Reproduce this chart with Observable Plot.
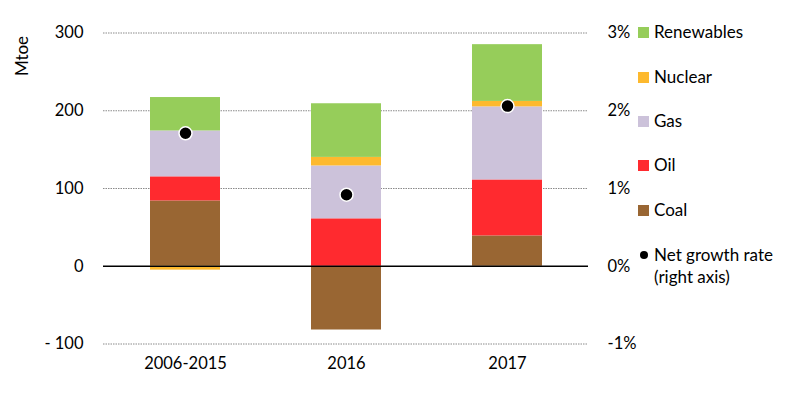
<!DOCTYPE html>
<html>
<head>
<meta charset="utf-8">
<script src="https://cdn.jsdelivr.net/npm/d3@7"></script>
<script src="https://cdn.jsdelivr.net/npm/@observablehq/plot@0.6"></script>
<style>
  html, body { margin: 0; padding: 0; background: #fff; }
  #wrap { position: relative; width: 790px; height: 395px; font-family: Lato, "Open Sans", sans-serif; color: #000; }
  #legend { position: absolute; left: 0; top: 0; }
  .item { position: absolute; left: 638px; height: 20px; display: flex; align-items: center; font-size: 17px; line-height: 20px; white-space: nowrap; }
  .sw { width: 11px; height: 11px; margin-right: 5px; flex: none; }
  .dotsw { width: 8px; height: 8px; border-radius: 50%; background: #000; margin: 0 6px 0 2px; flex: none; }
  #ylabel { position: absolute; left: 22px; top: 56px; transform: translate(-50%, -50%) rotate(-90deg); font-size: 17px; line-height: 20px; white-space: nowrap; }
</style>
</head>
<body>
<div id="wrap"><div id="chart"></div><div id="legend"></div><div id="ylabel"></div></div>
<script>
const categories = ["2006-2015", "2016", "2017"];
const fuels = ["Coal", "Oil", "Gas", "Nuclear", "Renewables"];
const fuelColors = ["#996633", "#FF2A2F", "#CCC2DA", "#FDB92E", "#96CD5A"];
const coal = [84, -82, 39];
const oil = [31, 61, 72];
const gas = [59, 68, 94];
const nuclear = [-5, 11, 7];
const renewables = [43, 69, 73];
const growthRate = [1.71, 0.92, 2.06]; // percent, right axis
const yTicks = [-100, 0, 100, 200, 300];
const gridTicks = [-100, 100, 200, 300];
const legendLabels = ["Renewables", "Nuclear", "Gas", "Oil", "Coal"];
const yLabel = "Mtoe";

const seriesValues = [coal, oil, gas, nuclear, renewables];
const rows = [];
fuels.forEach((f, i) => categories.forEach((c, j) => rows.push({category: c, fuel: f, value: seriesValues[i][j]})));
const dots = categories.map((c, j) => ({category: c, rate: growthRate[j]}));

const chart = Plot.plot({
  width: 790,
  height: 395,
  marginLeft: 103,
  marginRight: 202,
  marginTop: 32.5,
  marginBottom: 51.5,
  style: {fontFamily: "Lato, 'Open Sans', sans-serif", fontSize: "16.5px", color: "#000", background: "transparent"},
  x: {domain: categories, paddingInner: 0.567, paddingOuter: 0.283},
  y: {domain: [-100, 300]},
  color: {domain: fuels, range: fuelColors},
  marks: [
    Plot.ruleY(gridTicks, {stroke: "#8a8a8a", strokeWidth: 1, strokeDasharray: "1.5,1"}),
    Plot.barY(rows, Plot.stackY({x: "category", y: "value", fill: "fuel", order: null})),
    Plot.ruleY([0], {stroke: "#000", strokeWidth: 1.3}),
    Plot.dot(dots, {x: "category", y: d => d.rate * 100, r: 6.5, fill: "#000", stroke: "#fff", strokeWidth: 1.5}),
    Plot.axisY(yTicks, {anchor: "left", tickSize: 0, tickPadding: 20, label: null, tickFormat: d => d < 0 ? "- " + (-d) : String(d)}),
    Plot.axisY(yTicks, {anchor: "right", tickSize: 0, tickPadding: 19, label: null, textAnchor: "start", tickFormat: d => (d / 100) + "%"}),
    Plot.axisX({tickSize: 0, tickPadding: 13, label: null})
  ]
});
document.getElementById("chart").appendChild(chart);
document.getElementById("ylabel").textContent = yLabel;

const legend = document.getElementById("legend");
const legendY = [32, 77, 121, 165, 210];
legendLabels.forEach((name, i) => {
  const div = document.createElement("div");
  div.className = "item";
  div.style.top = (legendY[i] - 10) + "px";
  const sw = document.createElement("span");
  sw.className = "sw";
  sw.style.background = fuelColors[fuels.indexOf(name)];
  div.appendChild(sw);
  div.appendChild(document.createTextNode(name));
  legend.appendChild(div);
});
const dl = document.createElement("div");
dl.className = "item";
dl.style.top = (255 - 10) + "px";
const ds = document.createElement("span");
ds.className = "dotsw";
dl.appendChild(ds);
dl.appendChild(document.createTextNode("Net growth rate"));
legend.appendChild(dl);
const dl2 = document.createElement("div");
dl2.className = "item";
dl2.style.top = (277 - 10) + "px";
dl2.style.left = "654px";
dl2.textContent = "(right axis)";
legend.appendChild(dl2);
</script>
</body>
</html>
